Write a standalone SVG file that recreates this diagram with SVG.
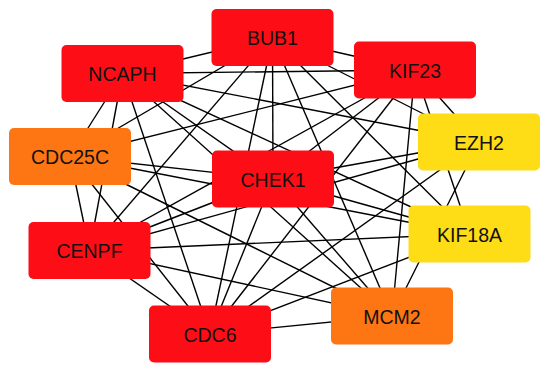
<svg xmlns="http://www.w3.org/2000/svg" width="550" height="371" viewBox="0 0 550 371">
<style>
.e{stroke:#000;stroke-width:1.4;fill:none}
.n rect{rx:5;ry:5}
.r rect{fill:#fd0e16}
.o rect{fill:#fd7613}
.y rect{fill:#fedc16}
.n text{font-family:"Liberation Sans",Arial,sans-serif;font-size:19.5px;fill:#111;text-anchor:middle}
</style>
<rect width="550" height="371" fill="#fff"/>
<g id="edges" class="e">
<!-- red-red -->
<line x1="272.5" y1="37.5" x2="122.5" y2="73.5"/>
<line x1="272.5" y1="37.5" x2="415" y2="70"/>
<line x1="272.5" y1="37.5" x2="273" y2="179"/>
<line x1="272.5" y1="37.5" x2="89.5" y2="250.5"/>
<line x1="272.5" y1="37.5" x2="210" y2="334"/>
<line x1="122.5" y1="73.5" x2="415" y2="70"/>
<line x1="122.5" y1="73.5" x2="273" y2="179"/>
<line x1="122.5" y1="73.5" x2="89.5" y2="250.5"/>
<line x1="122.5" y1="73.5" x2="210" y2="334"/>
<line x1="415" y1="70" x2="273" y2="179"/>
<line x1="415" y1="70" x2="89.5" y2="250.5"/>
<line x1="415" y1="70" x2="210" y2="334"/>
<line x1="273" y1="179" x2="89.5" y2="250.5"/>
<line x1="273" y1="179" x2="210" y2="334"/>
<line x1="89.5" y1="250.5" x2="210" y2="334"/>
<!-- red to CDC25C -->
<line x1="272.5" y1="37.5" x2="70" y2="156.5"/>
<line x1="122.5" y1="73.5" x2="70" y2="156.5"/>
<line x1="415" y1="70" x2="70" y2="156.5"/>
<line x1="273" y1="179" x2="70" y2="156.5"/>
<line x1="89.5" y1="250.5" x2="70" y2="156.5"/>
<line x1="210" y1="334" x2="70" y2="156.5"/>
<!-- red to MCM2 -->
<line x1="272.5" y1="37.5" x2="392" y2="316"/>
<line x1="122.5" y1="73.5" x2="392" y2="316"/>
<line x1="415" y1="70" x2="392" y2="316"/>
<line x1="273" y1="179" x2="392" y2="316"/>
<line x1="89.5" y1="250.5" x2="392" y2="316"/>
<line x1="210" y1="334" x2="392" y2="316"/>
<!-- red to EZH2 -->
<line x1="272.5" y1="37.5" x2="479" y2="142"/>
<line x1="122.5" y1="73.5" x2="479" y2="142"/>
<line x1="415" y1="70" x2="479" y2="142"/>
<line x1="273" y1="179" x2="479" y2="142"/>
<line x1="89.5" y1="250.5" x2="479" y2="142"/>
<line x1="210" y1="334" x2="479" y2="142"/>
<!-- red to KIF18A -->
<line x1="272.5" y1="37.5" x2="469.5" y2="234"/>
<line x1="122.5" y1="73.5" x2="469.5" y2="234"/>
<line x1="415" y1="70" x2="469.5" y2="234"/>
<line x1="273" y1="179" x2="469.5" y2="234"/>
<line x1="89.5" y1="250.5" x2="469.5" y2="234"/>
<line x1="210" y1="334" x2="469.5" y2="234"/>
<!-- others -->
<line x1="70" y1="156.5" x2="392" y2="316"/>
<line x1="70" y1="156.5" x2="469.5" y2="234"/>
<line x1="392" y1="316" x2="479" y2="142"/>
</g>
<g id="BUB1" class="n r"><rect x="211.5" y="9" width="122" height="57"/><text x="272.5" y="45">BUB1</text></g>
<g id="NCAPH" class="n r"><rect x="61.5" y="45" width="122" height="57"/><text x="122.5" y="81">NCAPH</text></g>
<g id="KIF23" class="n r"><rect x="354" y="41.5" width="122" height="57"/><text x="415" y="77.5">KIF23</text></g>
<g id="CDC25C" class="n o"><rect x="9" y="128" width="122" height="57"/><text x="70" y="164">CDC25C</text></g>
<g id="EZH2" class="n y"><rect x="418" y="113.5" width="122" height="57"/><text x="479" y="149.5">EZH2</text></g>
<g id="CHEK1" class="n r"><rect x="212" y="150.5" width="122" height="57"/><text x="273" y="186.5">CHEK1</text></g>
<g id="CENPF" class="n r"><rect x="28.5" y="222" width="122" height="57"/><text x="89.5" y="258">CENPF</text></g>
<g id="KIF18A" class="n y"><rect x="408.5" y="205.5" width="122" height="57"/><text x="469.5" y="241.5">KIF18A</text></g>
<g id="CDC6" class="n r"><rect x="149" y="305.5" width="122" height="57"/><text x="210" y="341.5">CDC6</text></g>
<g id="MCM2" class="n o"><rect x="331" y="287.5" width="122" height="57"/><text x="392" y="323.5">MCM2</text></g>
</svg>
